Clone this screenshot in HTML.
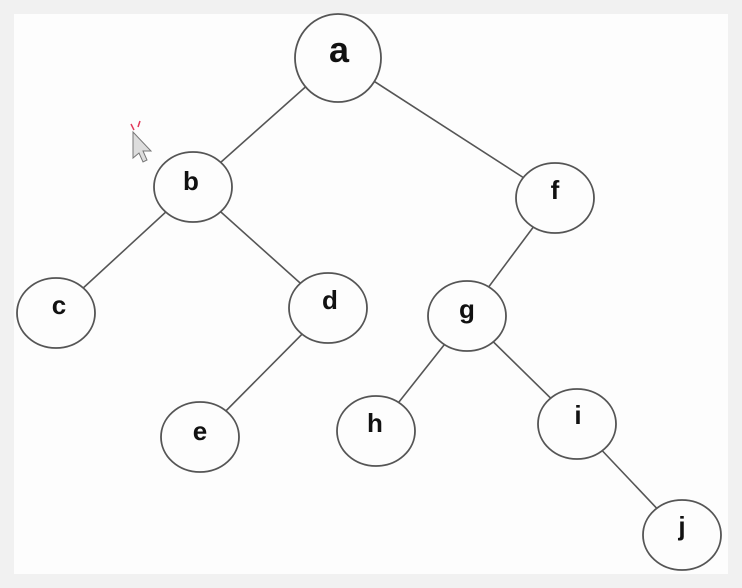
<!DOCTYPE html>
<html><head><style>
html,body{margin:0;padding:0;background:#f1f1f1;}
svg{display:block}
text{font-family:"Liberation Sans",Arial,sans-serif;font-weight:bold;fill:#111;text-anchor:middle}
</style></head><body>
<svg width="742" height="588" viewBox="0 0 742 588">
<rect x="0" y="0" width="742" height="588" fill="#f1f1f1"/>
<rect x="14" y="14" width="714" height="560" fill="#fdfdfd"/>
<g stroke="#555" stroke-width="1.6" fill="none">
<line x1="338" y1="58" x2="193" y2="187"/>
<line x1="338" y1="58" x2="555" y2="198"/>
<line x1="193" y1="187" x2="56" y2="313"/>
<line x1="193" y1="187" x2="328" y2="308"/>
<line x1="328" y1="308" x2="200" y2="437"/>
<line x1="555" y1="198" x2="467" y2="316"/>
<line x1="467" y1="316" x2="376" y2="431"/>
<line x1="467" y1="316" x2="577" y2="424"/>
<line x1="577" y1="424" x2="682" y2="535"/>
</g>
<g stroke="#555" stroke-width="1.8" fill="#fdfdfd">
<ellipse cx="338" cy="58" rx="43" ry="44"/>
<ellipse cx="193" cy="187" rx="39" ry="35"/>
<ellipse cx="555" cy="198" rx="39" ry="35"/>
<ellipse cx="56" cy="313" rx="39" ry="35"/>
<ellipse cx="328" cy="308" rx="39" ry="35"/>
<ellipse cx="467" cy="316" rx="39" ry="35"/>
<ellipse cx="200" cy="437" rx="39" ry="35"/>
<ellipse cx="376" cy="431" rx="39" ry="35"/>
<ellipse cx="577" cy="424" rx="39" ry="35"/>
<ellipse cx="682" cy="535" rx="39" ry="35"/>
</g>
<text x="339" y="62" font-size="36">a</text>
<text x="191" y="190" font-size="26">b</text>
<text x="555" y="199" font-size="26">f</text>
<text x="59" y="314" font-size="26">c</text>
<text x="330" y="309" font-size="26">d</text>
<text x="467" y="318" font-size="26">g</text>
<text x="200" y="440" font-size="26">e</text>
<text x="375" y="432" font-size="26">h</text>
<text x="578" y="424" font-size="26">i</text>
<text x="682" y="535" font-size="26">j</text>
<path d="M133,132 L133,158 L139,153 L143,162 L147,160 L143,151 L151,151 Z" fill="#ddd" stroke="#777" stroke-width="1"/>
<path d="M131,124 L134,130 M140,121 L138,127" stroke="#e23a5a" stroke-width="1.5"/>
</svg>
</body></html>
